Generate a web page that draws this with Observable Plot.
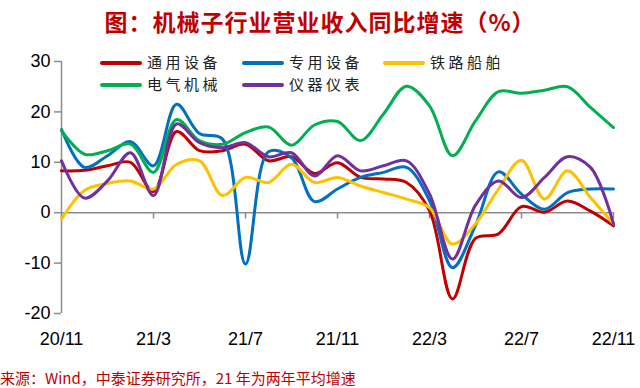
<!DOCTYPE html>
<html><head><meta charset="utf-8">
<script src="https://cdn.jsdelivr.net/npm/d3@7"></script>
<script src="https://cdn.jsdelivr.net/npm/@observablehq/plot@0.6"></script>
<style>
body{margin:0;background:#fff;width:640px;height:388px;overflow:hidden;position:relative;font-family:"Noto Sans CJK SC",sans-serif;}
#title{position:absolute;left:0;top:6px;width:640px;text-align:center;color:#C00000;font-size:23px;font-weight:bold;letter-spacing:1px;line-height:30px;}
#chart{position:absolute;left:0;top:40px;}
.lg{position:absolute;height:20px;line-height:20px;font-size:15px;letter-spacing:3.5px;color:#222;white-space:nowrap;}
.lg span.sw{display:inline-block;width:42px;height:4px;border-radius:2px;vertical-align:middle;margin-right:5px;position:relative;top:-1px;}
#footer{position:absolute;left:0;top:369px;color:#C00000;font-size:15px;line-height:18px;white-space:nowrap;}
</style>
</head><body>
<div id="title">图：机械子行业营业收入同比增速（%）</div>
<div id="chart"></div>
<div id="legend"></div>
<div id="footer">来源：Wind，中泰证券研究所，21 年为两年平均增速</div>
<script>
const months = ["20/11","20/12","21/1","21/2","21/3","21/4","21/5","21/6","21/7","21/8","21/9","21/10","21/11","21/12","22/1","22/2","22/3","22/4","22/5","22/6","22/7","22/8","22/9","22/10","22/11"];
const tickLabels = ["20/11","21/3","21/7","21/11","22/3","22/7","22/11"];
const yTicks = [-20,-10,0,10,20,30];
const seriesNames = ["通用设备","专用设备","铁路船舶","电气机械","仪器仪表"];
const seriesColors = ["#C00000","#0070C0","#FFC000","#00B050","#7030A0"];
const tongyong = [8.3,8.4,9.3,10.0,4.2,16.1,12.3,12.3,13.6,10.3,11.1,7.8,9.9,7.0,6.7,6.0,0.4,-17.1,-5.1,-4.2,1.2,0.1,2.3,0.3,-2.6];
const zhuanyong = [16.5,9.0,11.3,14.1,9.3,21.5,15.7,14.6,-10.2,12.1,10.9,2.2,4.7,7.0,8.0,9.0,2.4,-10.9,-2.5,8.1,3.7,0.7,4.0,4.7,4.7];
const tielu = [-1.3,4.4,5.8,6.3,4.7,9.6,10.3,3.4,7.0,6.0,9.6,6.0,7.0,5.3,4.0,2.7,1.0,-6.2,-2.2,4.7,10.4,2.7,8.3,3.0,-2.2];
const dianqi = [16.3,11.6,12.3,13.6,8.0,18.5,14.3,13.6,15.9,17.0,13.4,17.4,18.1,14.3,19.6,25.1,21.2,11.3,18.2,24.0,23.7,24.3,25.0,20.9,16.9];
const yiqi = [10.3,2.9,6.3,11.9,3.4,17.6,13.9,12.9,13.9,11.1,11.9,7.3,11.3,8.3,9.3,10.3,3.7,-9.2,1.5,6.3,3.0,7.0,11.1,9.0,-2.2];

const values = [tongyong, zhuanyong, tielu, dianqi, yiqi];
const data = seriesNames.flatMap((s,k)=>values[k].map((v,i)=>({s,i,v})));
const tickIdx = tickLabels.map(t=>months.indexOf(t));

const chart = Plot.plot({
  width:640, height:318,
  marginLeft:61, marginRight:27, marginTop:21, marginBottom:45,
  style:{fontFamily:"'Liberation Sans', Arial, sans-serif", background:"transparent"},
  x:{domain:[0,months.length-1], label:null},
  y:{domain:[-20,30], label:null},
  color:{domain:seriesNames, range:seriesColors},
  marks:[
    Plot.ruleY([0],{stroke:"#8c8c8c",strokeWidth:1.5}),
    Plot.ruleX([0],{stroke:"#8c8c8c",strokeWidth:1.5}),
    Plot.ruleX(tickIdx,{x:d=>d,y1:0,y2:-1.25,stroke:"#8c8c8c",strokeWidth:1.5}),
    Plot.axisY({ticks:yTicks, tickSize:7, tickPadding:4, stroke:"#8c8c8c", strokeWidth:1.5, fill:"#000", fontSize:18, tickFormat:d=>String(d), label:null}),
    Plot.axisX({ticks:tickIdx, tickSize:0, tickPadding:19, tickFormat:i=>months[i], fill:"#000", fontSize:18, label:null}),
    Plot.line(data,{x:"i",y:"v",z:"s",stroke:"s",strokeWidth:3,curve:"catmull-rom"})
  ]
});
document.getElementById("chart").appendChild(chart);

const legendPos = [[100,52],[242,52],[383,52],[100,74],[242,74]];
const lg = document.getElementById("legend");
seriesNames.forEach((s,k)=>{
  const d = document.createElement("div");
  d.className="lg";
  d.style.left=legendPos[k][0]+"px";
  d.style.top=legendPos[k][1]+"px";
  d.innerHTML=`<span class="sw" style="background:${seriesColors[k]}"></span>${s}`;
  lg.appendChild(d);
});
</script>
</body></html>
